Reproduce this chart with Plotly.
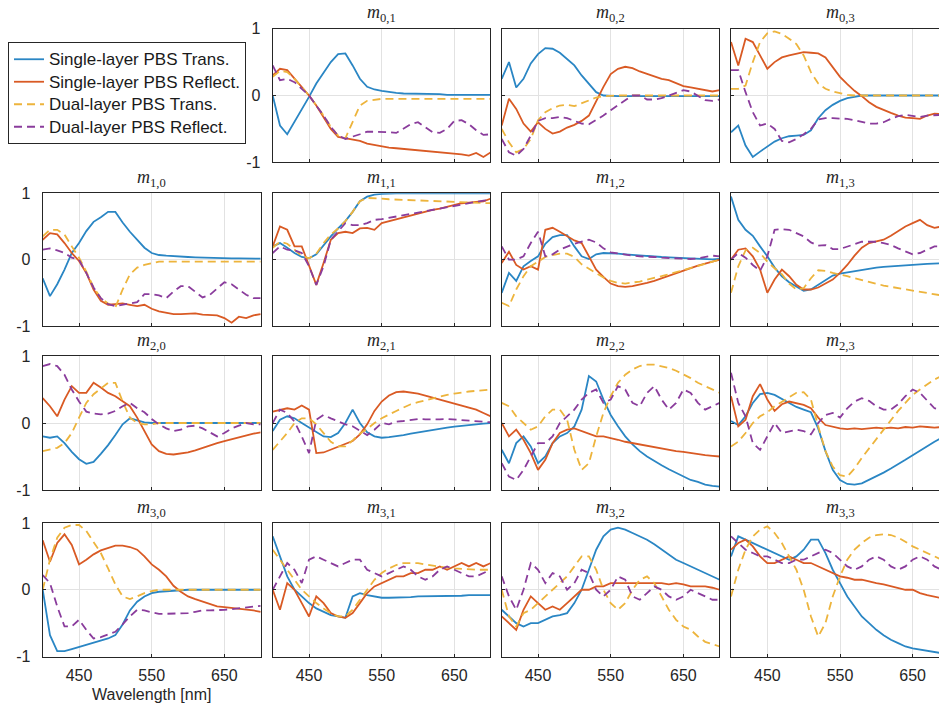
import plotly.graph_objects as go

# ---------------- data ----------------
WAVELENGTH = list(range(400, 701, 10))
X_TICKS = [450, 550, 650]
Y_TICKS = [-1, 0, 1]
SERIES_NAMES = ["Single-layer PBS Trans.", "Single-layer PBS Reflect.",
                "Dual-layer PBS Trans.", "Dual-layer PBS Reflect."]

m01_st = [0.0, -0.45, -0.58, -0.4, -0.2, -0.02, 0.18, 0.35, 0.5, 0.62, 0.63, 0.45, 0.25, 0.13, 0.09, 0.07, 0.05, 0.04, 0.03, 0.03, 0.02, 0.02, 0.02, 0.02, 0.01, 0.01, 0.01, 0.01, 0.01, 0.01, 0.01]
m01_sr = [0.3, 0.4, 0.38, 0.25, 0.12, 0.0, -0.15, -0.32, -0.5, -0.62, -0.64, -0.65, -0.68, -0.72, -0.74, -0.77, -0.78, -0.79, -0.8, -0.81, -0.82, -0.82, -0.84, -0.84, -0.85, -0.86, -0.88, -0.9, -0.86, -0.92, -0.85]
m01_dt = [0.28, 0.37, 0.35, 0.25, 0.12, 0.0, -0.15, -0.3, -0.47, -0.6, -0.64, -0.4, -0.15, -0.08, -0.06, -0.05, -0.05, -0.05, -0.05, -0.05, -0.05, -0.05, -0.05, -0.05, -0.05, -0.05, -0.05, -0.05, -0.05, -0.05, -0.05]
m01_dr = [0.45, 0.23, 0.25, 0.2, 0.1, 0.0, -0.15, -0.3, -0.47, -0.6, -0.65, -0.62, -0.58, -0.54, -0.54, -0.55, -0.55, -0.56, -0.5, -0.43, -0.4, -0.48, -0.55, -0.56, -0.5, -0.38, -0.37, -0.43, -0.52, -0.59, -0.58]

m02_st = [0.25, 0.5, 0.12, 0.25, 0.48, 0.62, 0.71, 0.7, 0.64, 0.55, 0.45, 0.3, 0.18, 0.05, 0.0, -0.01, -0.01, -0.01, -0.01, -0.01, -0.01, -0.01, -0.01, -0.01, -0.01, -0.01, -0.01, -0.01, -0.01, -0.01, -0.01]
m02_sr = [-0.45, -0.05, -0.2, -0.42, -0.54, -0.4, -0.5, -0.57, -0.54, -0.48, -0.44, -0.38, -0.3, -0.08, 0.13, 0.32, 0.4, 0.43, 0.41, 0.36, 0.32, 0.28, 0.25, 0.23, 0.18, 0.14, 0.12, 0.1, 0.08, 0.06, 0.08]
m02_dt = [-0.5, -0.7, -0.85, -0.8, -0.65, -0.37, -0.25, -0.19, -0.15, -0.14, -0.16, -0.12, -0.07, -0.03, -0.01, 0.0, 0.0, 0.0, 0.0, 0.0, 0.0, 0.0, 0.0, 0.0, 0.0, 0.0, 0.0, 0.0, 0.0, 0.0, 0.0]
m02_dr = [-0.65, -0.85, -0.9, -0.8, -0.6, -0.38, -0.34, -0.34, -0.32, -0.34, -0.38, -0.42, -0.43, -0.37, -0.3, -0.22, -0.14, -0.07, 0.0, 0.0, -0.06, -0.06, -0.04, 0.0, 0.04, 0.08, 0.06, 0.0, -0.07, -0.08, -0.06]

m03_st = [-0.55, -0.45, -0.75, -0.92, -0.84, -0.77, -0.69, -0.64, -0.61, -0.6, -0.59, -0.52, -0.34, -0.22, -0.14, -0.08, -0.04, -0.02, 0.0, 0.0, 0.0, 0.0, 0.0, 0.0, 0.0, 0.0, 0.0, 0.0, 0.0, 0.0, 0.0]
m03_sr = [0.8, 0.45, 0.85, 0.8, 0.6, 0.4, 0.5, 0.57, 0.6, 0.63, 0.65, 0.64, 0.63, 0.57, 0.42, 0.28, 0.17, 0.07, -0.01, -0.1, -0.17, -0.22, -0.26, -0.3, -0.33, -0.34, -0.35, -0.3, -0.27, -0.28, -0.25]
m03_dt = [0.1, 0.1, 0.15, 0.5, 0.8, 0.93, 0.96, 0.92, 0.85, 0.77, 0.6, 0.35, 0.18, 0.1, 0.06, 0.03, 0.01, 0.0, 0.0, 0.0, 0.0, 0.0, 0.0, 0.0, 0.0, 0.0, 0.0, 0.0, 0.0, 0.0, 0.0]
m03_dr = [0.38, 0.38, 0.05, -0.25, -0.45, -0.42, -0.5, -0.68, -0.7, -0.65, -0.58, -0.5, -0.36, -0.34, -0.34, -0.34, -0.35, -0.37, -0.4, -0.42, -0.42, -0.4, -0.35, -0.31, -0.29, -0.3, -0.32, -0.3, -0.29, -0.29, -0.3]

m10_st = [-0.28, -0.55, -0.37, -0.15, 0.1, 0.25, 0.43, 0.57, 0.64, 0.72, 0.72, 0.56, 0.42, 0.3, 0.18, 0.1, 0.07, 0.06, 0.05, 0.045, 0.04, 0.035, 0.03, 0.03, 0.025, 0.02, 0.02, 0.02, 0.015, 0.015, 0.015]
m10_sr = [0.3, 0.4, 0.38, 0.25, 0.1, -0.02, -0.2, -0.45, -0.62, -0.68, -0.67, -0.66, -0.68, -0.7, -0.68, -0.74, -0.78, -0.8, -0.82, -0.82, -0.82, -0.81, -0.83, -0.83, -0.84, -0.88, -0.95, -0.86, -0.88, -0.84, -0.82]
m10_dt = [0.35, 0.45, 0.45, 0.38, 0.2, 0.03, -0.18, -0.42, -0.58, -0.66, -0.72, -0.45, -0.22, -0.12, -0.08, -0.05, -0.03, -0.03, -0.03, -0.03, -0.03, -0.03, -0.03, -0.03, -0.03, -0.03, -0.03, -0.03, -0.03, -0.03, -0.03]
m10_dr = [0.15, 0.17, 0.14, 0.1, 0.03, 0.0, -0.2, -0.42, -0.58, -0.67, -0.7, -0.68, -0.66, -0.64, -0.52, -0.52, -0.54, -0.58, -0.48, -0.4, -0.4, -0.48, -0.57, -0.53, -0.44, -0.34, -0.37, -0.45, -0.53, -0.58, -0.58]

m11_st = [0.2, 0.25, 0.18, 0.1, 0.04, 0.02, 0.08, 0.22, 0.35, 0.47, 0.58, 0.72, 0.88, 0.95, 0.98, 0.99, 1.0, 1.0, 1.0, 1.0, 1.0, 1.0, 1.0, 1.0, 1.0, 1.0, 1.0, 1.0, 1.0, 1.0, 1.0]
m11_sr = [0.2, 0.5, 0.45, 0.2, 0.2, -0.1, -0.38, -0.05, 0.3, 0.4, 0.42, 0.4, 0.47, 0.48, 0.45, 0.55, 0.58, 0.6, 0.63, 0.66, 0.7, 0.73, 0.75, 0.77, 0.8, 0.82, 0.85, 0.86, 0.87, 0.88, 0.92]
m11_dt = [0.18, 0.27, 0.24, 0.15, 0.06, 0.02, 0.09, 0.25, 0.38, 0.47, 0.58, 0.72, 0.88, 0.93, 0.93, 0.92, 0.91, 0.905, 0.9, 0.895, 0.89, 0.885, 0.88, 0.875, 0.87, 0.865, 0.86, 0.86, 0.855, 0.85, 0.85]
m11_dr = [0.1, 0.2, 0.15, 0.14, 0.1, -0.1, -0.38, -0.1, 0.3, 0.42, 0.55, 0.52, 0.52, 0.55, 0.6, 0.61, 0.63, 0.65, 0.67, 0.69, 0.72, 0.74, 0.76, 0.77, 0.8, 0.82, 0.84, 0.86, 0.87, 0.89, 0.9]

m12_st = [-0.5, -0.2, -0.32, -0.1, -0.02, 0.05, 0.24, 0.34, 0.37, 0.37, 0.2, 0.05, 0.01, 0.08, 0.1, 0.1, 0.09, 0.08, 0.07, 0.06, 0.05, 0.045, 0.04, 0.035, 0.03, 0.02, 0.01, 0.005, 0.0, 0.005, 0.01]
m12_sr = [-0.05, 0.12, -0.08, -0.15, -0.1, -0.15, 0.45, 0.48, 0.42, 0.35, 0.29, 0.25, 0.05, -0.15, -0.26, -0.36, -0.4, -0.41, -0.4, -0.38, -0.35, -0.32, -0.28, -0.24, -0.2, -0.16, -0.12, -0.09, -0.06, -0.03, 0.0]
m12_dt = [-0.65, -0.7, -0.45, -0.25, -0.1, -0.03, 0.04, 0.07, 0.09, 0.09, 0.04, -0.07, -0.14, -0.2, -0.27, -0.32, -0.35, -0.36, -0.35, -0.33, -0.3, -0.28, -0.25, -0.22, -0.19, -0.16, -0.13, -0.1, -0.07, -0.04, 0.0]
m12_dr = [0.2, 0.0, 0.0, 0.05, 0.25, 0.42, 0.05, 0.08, 0.15, 0.2, 0.24, 0.27, 0.3, 0.26, 0.17, 0.11, 0.09, 0.07, 0.06, 0.05, 0.05, 0.04, 0.03, 0.025, 0.02, 0.015, 0.01, 0.02, 0.04, 0.06, 0.05]

m13_st = [0.95, 0.6, 0.45, 0.36, 0.2, 0.05, -0.12, -0.25, -0.34, -0.41, -0.47, -0.45, -0.38, -0.3, -0.24, -0.21, -0.19, -0.17, -0.15, -0.14, -0.12, -0.11, -0.1, -0.09, -0.08, -0.075, -0.07, -0.065, -0.055, -0.05, -0.05]
m13_sr = [0.0, 0.15, 0.17, 0.05, -0.15, -0.5, -0.3, -0.15, -0.25, -0.38, -0.45, -0.45, -0.42, -0.36, -0.3, -0.2, -0.08, 0.06, 0.18, 0.25, 0.28, 0.3, 0.36, 0.43, 0.5, 0.55, 0.6, 0.52, 0.48, 0.5, 0.47]
m13_dt = [-0.5, -0.1, 0.14, 0.18, 0.1, -0.03, -0.13, -0.22, -0.36, -0.45, -0.43, -0.28, -0.16, -0.17, -0.2, -0.22, -0.25, -0.28, -0.31, -0.34, -0.37, -0.39, -0.41, -0.43, -0.45, -0.47, -0.49, -0.5, -0.52, -0.54, -0.55]
m13_dr = [0.0, 0.1, 0.03, -0.08, -0.17, 0.05, 0.45, 0.46, 0.45, 0.4, 0.35, 0.26, 0.21, 0.22, 0.16, 0.16, 0.2, 0.24, 0.27, 0.27, 0.27, 0.25, 0.22, 0.17, 0.12, 0.08, 0.1, 0.15, 0.2, 0.2, 0.2]

m20_st = [-0.2, -0.22, -0.2, -0.3, -0.43, -0.54, -0.61, -0.58, -0.46, -0.33, -0.18, -0.02, 0.07, 0.04, 0.01, 0.0, 0.0, 0.0, 0.0, 0.0, 0.0, 0.0, 0.0, 0.0, 0.0, 0.0, 0.0, 0.0, 0.0, 0.0, 0.0]
m20_sr = [0.37, 0.25, 0.1, 0.35, 0.55, 0.45, 0.45, 0.6, 0.53, 0.45, 0.4, 0.33, 0.25, 0.08, -0.12, -0.32, -0.42, -0.46, -0.47, -0.46, -0.44, -0.41, -0.37, -0.33, -0.3, -0.27, -0.24, -0.21, -0.19, -0.16, -0.14]
m20_dt = [-0.42, -0.4, -0.37, -0.3, -0.15, 0.08, 0.3, 0.43, 0.52, 0.6, 0.6, 0.32, 0.08, 0.0, -0.02, -0.02, 0.0, 0.0, 0.0, 0.0, 0.0, 0.0, 0.0, 0.0, 0.0, 0.0, 0.0, 0.0, 0.0, 0.0, 0.0]
m20_dr = [0.85, 0.88, 0.85, 0.72, 0.5, 0.32, 0.17, 0.14, 0.13, 0.14, 0.18, 0.25, 0.3, 0.22, 0.16, 0.06, -0.02, -0.08, -0.12, -0.1, -0.05, -0.04, -0.08, -0.14, -0.2, -0.15, -0.08, -0.04, 0.0, -0.02, -0.02]

m21_st = [-0.12, 0.05, 0.1, 0.07, 0.0, -0.07, -0.14, -0.2, -0.21, -0.15, 0.0, 0.2, 0.0, -0.14, -0.2, -0.22, -0.21, -0.2, -0.18, -0.16, -0.14, -0.12, -0.1, -0.085, -0.07, -0.055, -0.04, -0.03, -0.02, -0.01, 0.0]
m21_sr = [0.17, 0.2, 0.22, 0.2, 0.26, 0.2, -0.45, -0.44, -0.4, -0.36, -0.32, -0.27, -0.17, -0.02, 0.18, 0.32, 0.41, 0.46, 0.47, 0.46, 0.44, 0.41, 0.38, 0.35, 0.33, 0.3, 0.27, 0.24, 0.2, 0.15, 0.1]
m21_dt = [-0.4, -0.28, -0.15, 0.0, 0.07, 0.07, -0.02, -0.15, -0.28, -0.35, -0.35, -0.26, -0.16, -0.09, 0.0, 0.07, 0.13, 0.18, 0.23, 0.28, 0.31, 0.34, 0.37, 0.4, 0.42, 0.44, 0.46, 0.47, 0.48, 0.49, 0.5]
m21_dr = [0.0, 0.2, 0.15, 0.02, -0.2, -0.45, 0.05, 0.12, 0.07, 0.02, -0.02, -0.05, -0.12, -0.18, -0.1, 0.0, -0.02, 0.02, 0.03, 0.05, 0.06, 0.055, 0.05, 0.055, 0.06, 0.05, 0.04, 0.035, 0.03, 0.02, 0.01]

m22_st = [-0.4, -0.6, -0.3, -0.2, -0.35, -0.6, -0.5, -0.3, -0.2, -0.15, -0.05, 0.2, 0.7, 0.62, 0.35, 0.12, -0.05, -0.2, -0.32, -0.42, -0.5, -0.57, -0.63, -0.69, -0.74, -0.8, -0.85, -0.88, -0.92, -0.94, -0.95]
m22_sr = [0.0, -0.2, -0.1, -0.25, -0.45, -0.7, -0.55, -0.3, -0.15, -0.1, -0.08, -0.12, -0.15, -0.2, -0.2, -0.22, -0.25, -0.28, -0.3, -0.32, -0.35, -0.36, -0.38, -0.4, -0.42, -0.43, -0.45, -0.46, -0.48, -0.49, -0.5]
m22_dt = [0.3, 0.25, 0.1, 0.0, -0.1, -0.05, 0.1, 0.2, 0.2, 0.05, -0.4, -0.7, -0.6, -0.2, 0.15, 0.4, 0.6, 0.72, 0.8, 0.85, 0.87, 0.87, 0.85, 0.82, 0.78, 0.73, 0.67, 0.6, 0.55, 0.5, 0.45]
m22_dr = [-0.6, -0.8, -0.85, -0.7, -0.5, -0.3, -0.3, -0.2, 0.0, 0.1, 0.2, 0.35, 0.45, 0.5, 0.3, 0.35, 0.55, 0.5, 0.3, 0.25, 0.45, 0.55, 0.35, 0.2, 0.3, 0.5, 0.45, 0.3, 0.2, 0.25, 0.3]

m23_st = [0.03, -0.03, 0.1, 0.3, 0.43, 0.45, 0.42, 0.36, 0.3, 0.24, 0.2, 0.16, -0.08, -0.42, -0.7, -0.85, -0.91, -0.92, -0.9, -0.85, -0.8, -0.74, -0.68, -0.62, -0.55, -0.48, -0.41, -0.34, -0.28, -0.22, -0.17]
m23_sr = [0.4, -0.05, 0.05, 0.4, 0.58, 0.35, 0.18, 0.28, 0.32, 0.3, 0.27, 0.22, 0.08, -0.03, -0.06, -0.08, -0.09, -0.08, -0.09, -0.08, -0.07, -0.08, -0.07, -0.08, -0.06, -0.07, -0.05, -0.06, -0.07, -0.06, -0.06]
m23_dt = [-0.35, -0.28, -0.15, 0.0, 0.1, 0.16, 0.25, 0.32, 0.39, 0.45, 0.46, 0.35, -0.05, -0.42, -0.65, -0.78, -0.8, -0.68, -0.52, -0.38, -0.24, -0.1, 0.04, 0.18, 0.3, 0.42, 0.5, 0.58, 0.65, 0.7, 0.75]
m23_dr = [0.75, 0.3, 0.1, -0.3, -0.4, -0.2, 0.0, -0.15, -0.13, -0.1, -0.12, -0.17, 0.0, 0.12, 0.15, 0.08, 0.22, 0.32, 0.37, 0.33, 0.25, 0.2, 0.2, 0.28, 0.4, 0.5, 0.45, 0.33, 0.22, 0.2, 0.2]

m30_st = [0.0, -0.68, -0.92, -0.92, -0.89, -0.86, -0.83, -0.8, -0.77, -0.73, -0.68, -0.52, -0.31, -0.18, -0.1, -0.05, -0.03, -0.02, -0.01, 0.0, 0.0, 0.0, 0.0, 0.0, 0.0, 0.0, 0.0, 0.0, 0.0, 0.0, 0.0]
m30_sr = [0.74, 0.42, 0.7, 0.83, 0.67, 0.38, 0.45, 0.53, 0.59, 0.63, 0.66, 0.66, 0.64, 0.6, 0.5, 0.38, 0.3, 0.2, 0.06, -0.03, -0.1, -0.14, -0.18, -0.22, -0.25, -0.26, -0.27, -0.29, -0.3, -0.31, -0.33]
m30_dt = [0.0, 0.45, 0.78, 0.93, 0.97, 0.97, 0.88, 0.72, 0.55, 0.32, 0.08, -0.1, -0.14, -0.1, -0.05, -0.02, 0.0, 0.0, 0.0, 0.0, 0.0, 0.0, 0.0, 0.0, 0.0, 0.0, 0.0, 0.0, 0.0, 0.0, 0.0]
m30_dr = [0.22, 0.1, -0.25, -0.55, -0.55, -0.45, -0.6, -0.73, -0.71, -0.67, -0.63, -0.52, -0.4, -0.3, -0.31, -0.34, -0.36, -0.36, -0.36, -0.36, -0.35, -0.33, -0.31, -0.31, -0.31, -0.3, -0.29, -0.28, -0.27, -0.25, -0.24]

m31_st = [0.8, 0.5, 0.2, 0.0, -0.1, -0.2, -0.28, -0.33, -0.38, -0.4, -0.42, -0.1, -0.05, -0.08, -0.1, -0.12, -0.12, -0.12, -0.11, -0.11, -0.1, -0.1, -0.1, -0.1, -0.09, -0.09, -0.09, -0.08, -0.08, -0.08, -0.08]
m31_sr = [0.0, -0.3, 0.1, 0.0, -0.2, -0.4, -0.1, -0.2, -0.35, -0.4, -0.42, -0.35, -0.2, -0.05, 0.05, 0.1, 0.15, 0.2, 0.2, 0.25, 0.25, 0.3, 0.3, 0.35, 0.3, 0.35, 0.4, 0.35, 0.4, 0.35, 0.4]
m31_dt = [0.6, 0.45, 0.3, 0.15, 0.0, -0.1, -0.2, -0.28, -0.35, -0.4, -0.4, -0.3, -0.15, 0.0, 0.15, 0.25, 0.32, 0.37, 0.4, 0.4, 0.4, 0.38, 0.36, 0.34, 0.33, 0.32, 0.31, 0.3, 0.3, 0.3, 0.3]
m31_dr = [0.0, 0.2, 0.4, 0.3, 0.1, 0.45, 0.5, 0.45, 0.4, 0.35, 0.4, 0.45, 0.45, 0.3, 0.25, 0.2, 0.25, 0.3, 0.35, 0.3, 0.2, 0.15, 0.2, 0.3, 0.35, 0.3, 0.25, 0.2, 0.2, 0.25, 0.3]

m32_st = [-0.3, -0.4, -0.5, -0.55, -0.5, -0.5, -0.45, -0.4, -0.38, -0.35, -0.2, 0.0, 0.3, 0.6, 0.8, 0.9, 0.93, 0.9, 0.85, 0.8, 0.75, 0.68, 0.6, 0.52, 0.45, 0.4, 0.35, 0.3, 0.25, 0.2, 0.15]
m32_sr = [-0.4, -0.5, -0.6, -0.3, -0.1, -0.2, -0.3, -0.25, -0.3, -0.2, -0.1, 0.0, 0.0, 0.05, 0.05, 0.1, 0.1, 0.1, 0.1, 0.1, 0.1, 0.1, 0.1, 0.08, 0.1, 0.08, 0.05, 0.05, 0.05, 0.03, 0.0]
m32_dt = [0.0, -0.4, -0.55, -0.35, -0.3, -0.2, -0.1, 0.0, 0.1, 0.2, 0.35, 0.5, 0.5, 0.3, 0.0, -0.2, -0.3, -0.2, 0.0, 0.15, 0.2, 0.1, -0.1, -0.3, -0.45, -0.55, -0.6, -0.7, -0.78, -0.82, -0.85]
m32_dr = [0.2, -0.1, -0.3, 0.0, 0.4, 0.3, 0.1, 0.25, 0.2, 0.0, 0.1, 0.3, 0.25, 0.0, -0.1, 0.0, 0.2, 0.15, -0.1, -0.15, -0.05, 0.05, 0.0, -0.1, -0.15, -0.1, 0.0, -0.05, -0.1, -0.15, -0.15]

m33_st = [0.5, 0.8, 0.75, 0.7, 0.65, 0.6, 0.55, 0.5, 0.45, 0.5, 0.6, 0.75, 0.75, 0.55, 0.3, 0.1, -0.1, -0.25, -0.4, -0.5, -0.6, -0.68, -0.75, -0.8, -0.85, -0.88, -0.9, -0.92, -0.94, -0.95, -0.96]
m33_sr = [0.6, 0.7, 0.75, 0.65, 0.5, 0.4, 0.4, 0.45, 0.5, 0.45, 0.4, 0.4, 0.35, 0.3, 0.25, 0.2, 0.18, 0.15, 0.15, 0.12, 0.1, 0.08, 0.05, 0.03, 0.0, 0.0, -0.05, -0.08, -0.1, -0.12, -0.15]
m33_dt = [-0.1, 0.3, 0.6, 0.8, 0.9, 0.95, 0.85, 0.7, 0.5, 0.3, 0.0, -0.4, -0.7, -0.5, -0.1, 0.2, 0.45, 0.6, 0.7, 0.78, 0.82, 0.83, 0.82, 0.78, 0.72, 0.65, 0.6, 0.55, 0.5, 0.45, 0.42]
m33_dr = [0.8, 0.7, 0.6, 0.55, 0.5, 0.5, 0.45, 0.4, 0.4, 0.45, 0.45, 0.5, 0.55, 0.6, 0.55, 0.45, 0.35, 0.3, 0.35, 0.45, 0.5, 0.45, 0.35, 0.3, 0.35, 0.45, 0.5, 0.45, 0.35, 0.3, 0.35]

PANELS = [
    (0, 1, [m01_st, m01_sr, m01_dt, m01_dr]),
    (0, 2, [m02_st, m02_sr, m02_dt, m02_dr]),
    (0, 3, [m03_st, m03_sr, m03_dt, m03_dr]),
    (1, 0, [m10_st, m10_sr, m10_dt, m10_dr]),
    (1, 1, [m11_st, m11_sr, m11_dt, m11_dr]),
    (1, 2, [m12_st, m12_sr, m12_dt, m12_dr]),
    (1, 3, [m13_st, m13_sr, m13_dt, m13_dr]),
    (2, 0, [m20_st, m20_sr, m20_dt, m20_dr]),
    (2, 1, [m21_st, m21_sr, m21_dt, m21_dr]),
    (2, 2, [m22_st, m22_sr, m22_dt, m22_dr]),
    (2, 3, [m23_st, m23_sr, m23_dt, m23_dr]),
    (3, 0, [m30_st, m30_sr, m30_dt, m30_dr]),
    (3, 1, [m31_st, m31_sr, m31_dt, m31_dr]),
    (3, 2, [m32_st, m32_sr, m32_dt, m32_dr]),
    (3, 3, [m33_st, m33_sr, m33_dt, m33_dr]),
]

# ---------------- styling / layout ----------------
W, H = 939, 707
COLORS = ["#2a86c4", "#d95a24", "#edb43c", "#8a3c9c"]
DASHES = ["solid", "solid", "8px,5px", "8px,5px"]
COL_PX = [(42.7, 260.7), (272.7, 490.0), (501.7, 719.3), (731.0, 939.0)]
ROW_PX = [(28.7, 162.3), (193.3, 326.0), (356.0, 490.0), (523.0, 656.5)]
PX_PER_NM = 218.0 / 300.0
SANS = "Liberation Sans, Arial, Helvetica, sans-serif"
SERIF = "Liberation Serif, Times New Roman, serif"

fig = go.Figure()
layout = {}
annotations = []

for k, (r, c, series) in enumerate(PANELS, start=1):
    xname = "xaxis" if k == 1 else f"xaxis{k}"
    yname = "yaxis" if k == 1 else f"yaxis{k}"
    xref = "x" if k == 1 else f"x{k}"
    yref = "y" if k == 1 else f"y{k}"
    x0, x1 = COL_PX[c]
    y0, y1 = ROW_PX[r]
    x_end = 400 + (x1 - x0) / PX_PER_NM

    for s, vals in enumerate(series):
        fig.add_trace(go.Scatter(
            x=WAVELENGTH, y=vals, mode="lines",
            name=f"<span style='font-size:17px'>{SERIES_NAMES[s]}</span>",
            legendgroup=SERIES_NAMES[s], showlegend=(k == 1),
            line=dict(color=COLORS[s], width=1.8, dash=DASHES[s]),
            xaxis=xref, yaxis=yref, hoverinfo="skip"))

    layout[xname] = dict(
        domain=[x0 / W, x1 / W], range=[400, x_end], anchor=yref,
        showline=True, mirror=True, linecolor="#262626", linewidth=1,
        showgrid=True, gridcolor="#e2e2e2", gridwidth=1, zeroline=False,
        tickvals=X_TICKS, ticks="inside", ticklen=3, tickcolor="#262626",
        showticklabels=(r == 3), ticklabelstandoff=4,
        tickfont=dict(family=SANS, size=16, color="#262626"))
    show_y = (c == 0) or (r == 0 and c == 1)
    layout[yname] = dict(
        domain=[1 - y1 / H, 1 - y0 / H], range=[-1, 1], anchor=xref,
        showline=True, mirror=(c != 3), linecolor="#262626", linewidth=1,
        showgrid=True, gridcolor="#e2e2e2", gridwidth=1, zeroline=False,
        tickvals=Y_TICKS, ticktext=["-1", "0", "1"], ticks="inside", ticklen=3,
        tickcolor="#262626", showticklabels=show_y, ticklabelstandoff=8,
        tickfont=dict(family=SANS, size=16, color="#262626"))

    annotations.append(dict(
        text=f"<i>m</i><sub>{r},{c}</sub>", xref="paper", yref="paper",
        x=((x0 + x1) / 2 if c != 3 else (x0 + x0 + 218) / 2) / W,
        y=1 - (y0 - 15) / H, xanchor="center", yanchor="middle",
        showarrow=False, font=dict(family=SERIF, size=18, color="#262626")))

annotations.append(dict(
    text="Wavelength [nm]", xref="paper", yref="paper",
    x=151.7 / W, y=1 - 694 / H, xanchor="center", yanchor="middle",
    showarrow=False, font=dict(family=SANS, size=16, color="#262626")))

fig.update_layout(
    width=W, height=H, autosize=False,
    margin=dict(l=0, r=0, t=0, b=0, pad=0, autoexpand=False),
    paper_bgcolor="white", plot_bgcolor="white",
    annotations=annotations,
    legend=dict(x=8 / W, y=1 - 42 / H, xanchor="left", yanchor="top",
                bgcolor="white", bordercolor="#262626", borderwidth=1,
                font=dict(family=SANS, size=15, color="#1a1a1a"),
                tracegroupgap=0, itemwidth=30),
    **layout)

fig.write_html("out.html", config={"displayModeBar": False},
               post_script="document.body.style.margin='0px';document.body.style.overflow='hidden';")
